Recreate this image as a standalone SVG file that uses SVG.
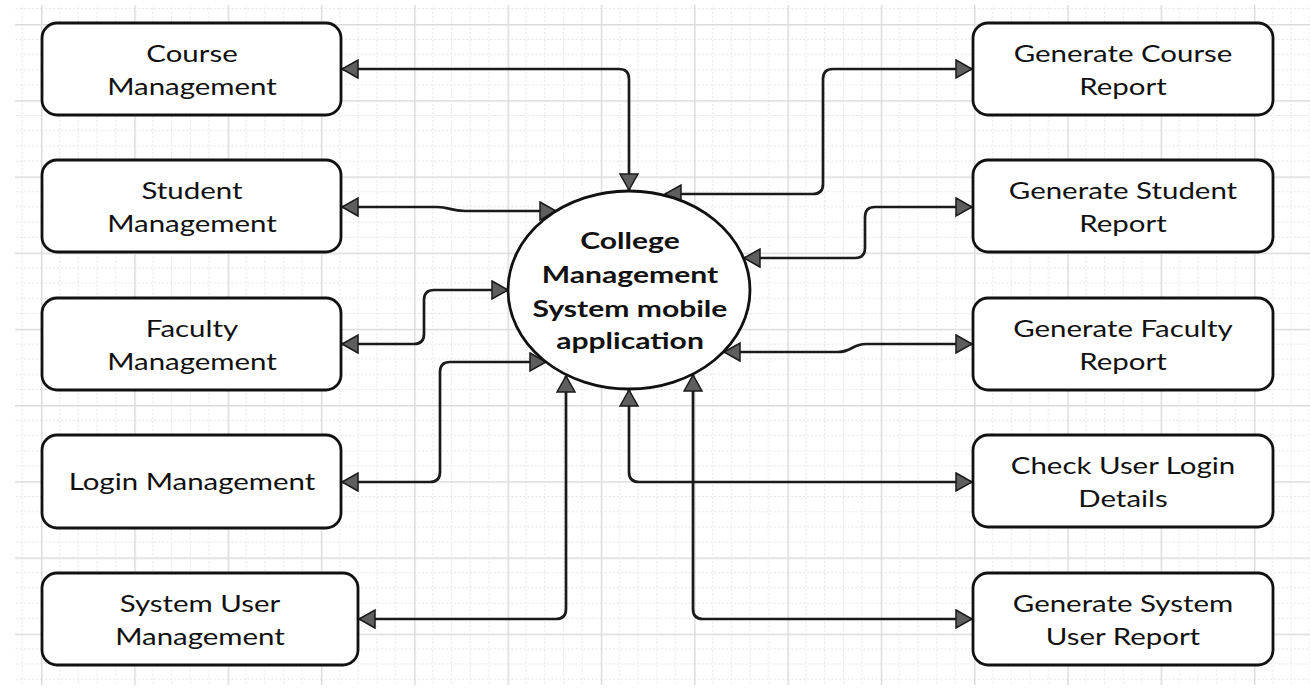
<svg xmlns="http://www.w3.org/2000/svg" width="1310" height="691" viewBox="0 0 1310 691">
<style>
.box{fill:#fff;stroke:#111;stroke-width:2.8}
.t{font-family:Lato,"Open Sans","Liberation Sans",sans-serif;font-size:23px;fill:#111;text-anchor:middle}
.tb{font-family:Lato,"Open Sans","Liberation Sans",sans-serif;font-size:23.5px;font-weight:bold;fill:#111;text-anchor:middle}
.c{fill:none;stroke:#1a1a1a;stroke-width:2.7;marker-start:url(#ah);marker-end:url(#ah)}
</style>
<defs>
<marker id="ah" markerUnits="userSpaceOnUse" markerWidth="20" markerHeight="22" refX="16" refY="9" orient="auto-start-reverse" viewBox="-1.5 -1.5 20 22">
<path d="M0,0 L16,9 L0,18 z" fill="#5e5e5e" stroke="#1a1a1a" stroke-width="1.5"/>
</marker>
<pattern id="grid" patternUnits="userSpaceOnUse" x="41" y="24" width="93.3" height="76.2">
<g stroke="#e4e4e4" stroke-width="1" stroke-dasharray="2,2" fill="none">
<path d="M18.66,0V76.2M37.32,0V76.2M55.98,0V76.2M74.64,0V76.2"/>
<path d="M0,15.24H93.3M0,30.48H93.3M0,45.72H93.3M0,60.96H93.3"/>
</g>
<path d="M0.5,0V76.2M0,0.5H93.3" stroke="#dcdcdc" stroke-width="2" fill="none"/>
</pattern>
</defs>
<rect width="1310" height="691" fill="#fff"/>
<rect x="15" y="5" width="1295" height="680" fill="url(#grid)"/>

<g id="connectors">
<path class="c" d="M342,69 H619 Q629,69 629,79 V190"/>
<path class="c" d="M342,207 H437 C450,207 450,211 465,211 H556"/>
<path class="c" d="M342,344 H414 Q424,344 424,334 V300 Q424,290 434,290 H508"/>
<path class="c" d="M342,482 H430 Q440,482 440,472 V372 Q440,362 450,362 H546"/>
<path class="c" d="M359,619 H556 Q566,619 566,609 V376"/>
<path class="c" d="M972,482 H639 Q629,482 629,472 V390"/>
<path class="c" d="M972,619 H703 Q693,619 693,609 V375"/>
<path class="c" d="M972,69 H833 Q823,69 823,79 V184 Q823,194 813,194 H665"/>
<path class="c" d="M972,207 H875 Q865,207 865,217 V248 Q865,258 855,258 H744"/>
<path class="c" d="M972,344 H866 C852,344 852,352 838,352 H724"/>
</g>

<g id="center">
<ellipse cx="629" cy="290" rx="121" ry="99" fill="#fff" stroke="#111" stroke-width="2.8"/>
<text class="tb" transform="translate(630,249) scale(1.28,1)">College</text>
<text class="tb" transform="translate(630,283) scale(1.28,1)">Management</text>
<text class="tb" transform="translate(630,317) scale(1.28,1)">System mobile</text>
<text class="tb" transform="translate(630,349) scale(1.28,1)">application</text>
</g>

<g id="course-management">
<rect class="box" x="42" y="23" width="299" height="92" rx="15"/>
<text class="t" transform="translate(192,62) scale(1.28,1)">Course</text>
<text class="t" transform="translate(192,95) scale(1.28,1)">Management</text>
</g>
<g id="student-management">
<rect class="box" x="42" y="160" width="299" height="92" rx="15"/>
<text class="t" transform="translate(192,199) scale(1.28,1)">Student</text>
<text class="t" transform="translate(192,232) scale(1.28,1)">Management</text>
</g>
<g id="faculty-management">
<rect class="box" x="42" y="298" width="299" height="92" rx="15"/>
<text class="t" transform="translate(192,337) scale(1.28,1)">Faculty</text>
<text class="t" transform="translate(192,370) scale(1.28,1)">Management</text>
</g>
<g id="login-management">
<rect class="box" x="42" y="435" width="299" height="93" rx="15"/>
<text class="t" transform="translate(192,490) scale(1.28,1)">Login Management</text>
</g>
<g id="system-user-management">
<rect class="box" x="42" y="573" width="316" height="92" rx="15"/>
<text class="t" transform="translate(200,612) scale(1.28,1)">System User</text>
<text class="t" transform="translate(200,645) scale(1.28,1)">Management</text>
</g>

<g id="generate-course-report">
<rect class="box" x="973" y="23" width="300" height="92" rx="15"/>
<text class="t" transform="translate(1123,62) scale(1.28,1)">Generate Course</text>
<text class="t" transform="translate(1123,95) scale(1.28,1)">Report</text>
</g>
<g id="generate-student-report">
<rect class="box" x="973" y="160" width="300" height="92" rx="15"/>
<text class="t" transform="translate(1123,199) scale(1.28,1)">Generate Student</text>
<text class="t" transform="translate(1123,232) scale(1.28,1)">Report</text>
</g>
<g id="generate-faculty-report">
<rect class="box" x="973" y="298" width="300" height="92" rx="15"/>
<text class="t" transform="translate(1123,337) scale(1.28,1)">Generate Faculty</text>
<text class="t" transform="translate(1123,370) scale(1.28,1)">Report</text>
</g>
<g id="check-user-login-details">
<rect class="box" x="973" y="435" width="300" height="92" rx="15"/>
<text class="t" transform="translate(1123,474) scale(1.28,1)">Check User Login</text>
<text class="t" transform="translate(1123,507) scale(1.28,1)">Details</text>
</g>
<g id="generate-system-user-report">
<rect class="box" x="973" y="573" width="300" height="92" rx="15"/>
<text class="t" transform="translate(1123,612) scale(1.28,1)">Generate System</text>
<text class="t" transform="translate(1123,645) scale(1.28,1)">User Report</text>
</g>
</svg>
